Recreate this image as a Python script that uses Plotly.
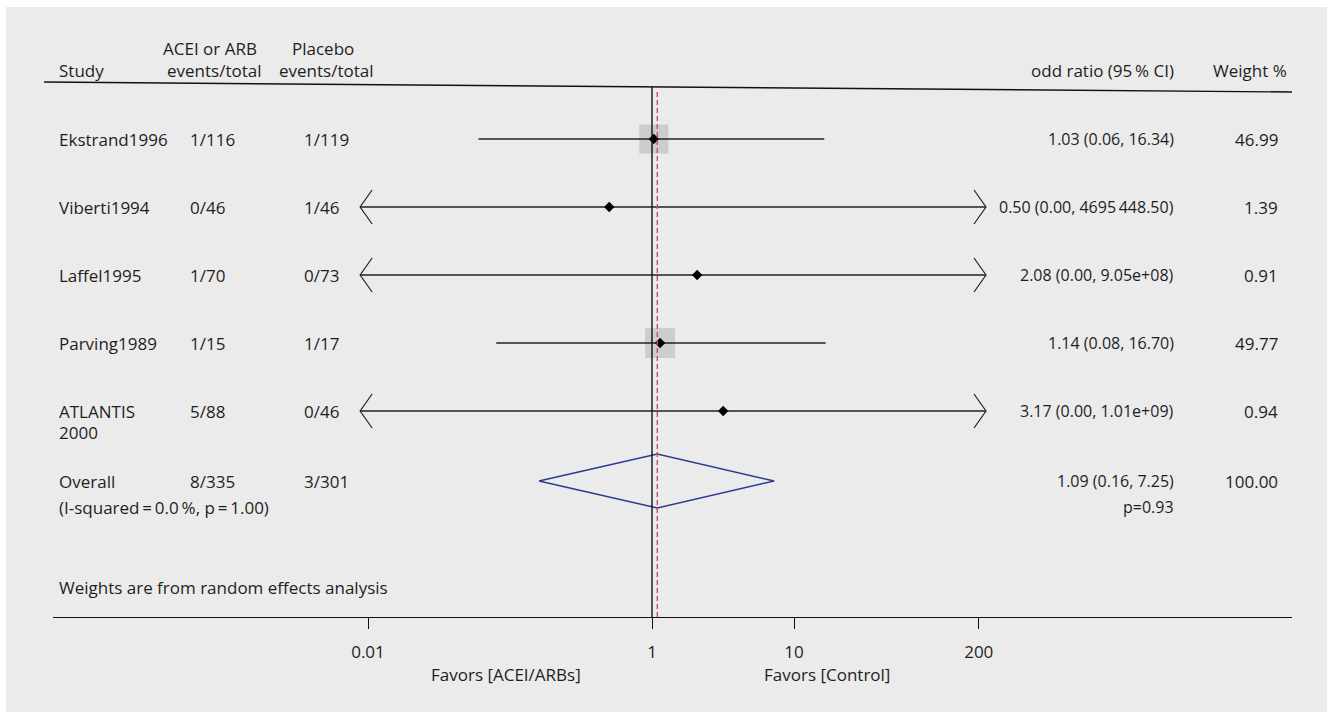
import plotly.graph_objects as go
import math

# ---------------- data ----------------
studies = ["Ekstrand1996", "Viberti1994", "Laffel1995", "Parving1989", "ATLANTIS 2000"]
acei_events = ["1/116", "0/46", "1/70", "1/15", "5/88"]
placebo_events = ["1/119", "1/46", "0/73", "1/17", "0/46"]
odds_ratio = [1.03, 0.50, 2.08, 1.14, 3.17]
ci_low = [0.06, 0.00, 0.00, 0.08, 0.00]
ci_high = [16.34, 4695448.50, 9.05e8, 16.70, 1.01e9]
weights = [46.99, 1.39, 0.91, 49.77, 0.94]

overall_label = "Overall"
overall_acei = "8/335"
overall_placebo = "3/301"
overall_or = 1.09
overall_low = 0.16
overall_high = 7.25
overall_weight = 100.00
overall_p = "p=0.93"
heterogeneity = "(I-squared\u2009=\u20090.0\u2009%, p\u2009=\u20091.00)"
footnote = "Weights are from random effects analysis"

tick_vals = [0.01, 1, 10, 200]
tick_text = ["0.01", "1", "10", "200"]
favors_left = "Favors [ACEI/ARBs]"
favors_right = "Favors [Control]"

# display clipping range of the CI lines (arrows beyond)
clip_low, clip_high = 0.0088, 225

# ---------------- layout helpers ----------------
W, H = 1327, 712
ML, MR, MT, MB = 53, 35, 0, 95
PW, PH = W - ML - MR, H - MT - MB
ROW0, ROWSTEP = 139, 68
PX_PER_DEC = 142.0
ONE_PX = 652


def xp(px):
    return (px - ML) / PW


def yp(py):
    return (H - MB - py) / PH


def row(py):
    return (py - ROW0) / ROWSTEP


FONT = "Open Sans"
FS = 17
FS_NUM = 16
TXT = "#1e1e1e"

fig = go.Figure()

# weight squares
max_w = max(weights)
sq_sizes = [30 * math.sqrt(w / max_w) for w in weights]
rows = list(range(len(studies)))
fig.add_trace(go.Scatter(
    x=odds_ratio, y=rows, mode="markers",
    marker=dict(symbol="square", size=sq_sizes, color="#c1c1c3", line=dict(width=0)),
    hoverinfo="skip", showlegend=False))

# CI lines and arrows
arm_dx = 10 ** (12 / PX_PER_DEC)
arm_dy = 17 / ROWSTEP
for i in rows:
    lo = max(ci_low[i], clip_low)
    hi = min(ci_high[i], clip_high)
    fig.add_trace(go.Scatter(x=[lo, hi], y=[i, i], mode="lines",
                             line=dict(color="#222", width=1.3),
                             hoverinfo="skip", showlegend=False))
    if ci_low[i] < clip_low:
        fig.add_trace(go.Scatter(x=[lo * arm_dx, lo, lo * arm_dx], y=[i - arm_dy, i, i + arm_dy],
                                 mode="lines", line=dict(color="#222", width=1.2),
                                 hoverinfo="skip", showlegend=False))
    if ci_high[i] > clip_high:
        fig.add_trace(go.Scatter(x=[hi / arm_dx, hi, hi / arm_dx], y=[i - arm_dy, i, i + arm_dy],
                                 mode="lines", line=dict(color="#222", width=1.2),
                                 hoverinfo="skip", showlegend=False))

# point estimates
fig.add_trace(go.Scatter(
    x=odds_ratio, y=rows, mode="markers",
    marker=dict(symbol="diamond", size=8, color="black"),
    hoverinfo="skip", showlegend=False))

# overall diamond
orow = row(481)
dh = 27 / ROWSTEP
fig.add_trace(go.Scatter(
    x=[overall_low, overall_or, overall_high, overall_or, overall_low],
    y=[orow, orow - dh, orow, orow + dh, orow],
    mode="lines", line=dict(color="#2d3b8e", width=1.5),
    hoverinfo="skip", showlegend=False))

shapes = []
# white page edges
shapes.append(dict(type="rect", xref="paper", yref="paper", x0=xp(0), x1=xp(W), y0=yp(7), y1=yp(0),
                   fillcolor="white", line=dict(width=0), layer="below"))
shapes.append(dict(type="rect", xref="paper", yref="paper", x0=xp(0), x1=xp(6), y0=yp(H), y1=yp(0),
                   fillcolor="white", line=dict(width=0), layer="below"))
# header rule (slightly slanted as in the reference)
shapes.append(dict(type="line", xref="paper", yref="paper", x0=xp(44), y0=yp(82), x1=xp(1292), y1=yp(92),
                   line=dict(color="#111", width=1.4)))
# null line at OR = 1
shapes.append(dict(type="line", xref="x", yref="paper", x0=1, x1=1, y0=0, y1=yp(87),
                   line=dict(color="#111", width=1.4), layer="above"))
# overall estimate dashed line
shapes.append(dict(type="line", xref="x", yref="paper", x0=overall_or, x1=overall_or,
                   y0=0, y1=yp(90), line=dict(color="#c8505e", width=1.4, dash="5px,3px"), layer="above"))

ann = []


def add_text(text, x, y, xanchor="left", yref="y", size=FS):
    ann.append(dict(text=text, x=x, y=y, xref="paper", yref=yref, xanchor=xanchor, yanchor="middle",
                    showarrow=False, font=dict(family=FONT, size=size, color=TXT)))


# headers
add_text("Study", xp(57), row(70))
add_text("ACEI or ARB", xp(210), row(48), "center")
add_text("events/total", xp(214), row(70), "center")
add_text("Placebo", xp(323), row(48), "center")
add_text("events/total", xp(326), row(70), "center")
add_text("odd ratio (95\u2009% CI)", xp(1176), row(70), "right")
add_text("Weight %", xp(1289), row(70), "right")


def fmt_ci(v):
    if v >= 1e8:
        return f"{v:.2e}"
    if v >= 1e4:
        whole, frac = f"{v:.2f}".split(".")
        return f"{whole[:-3]}\u2009{whole[-3:]}.{frac}"
    return f"{v:.2f}"


for i in rows:
    name = studies[i]
    if name == "ATLANTIS 2000":
        add_text("ATLANTIS", xp(57), i)
        add_text("2000", xp(57), i + 21 / ROWSTEP)
    else:
        add_text(name, xp(57), i)
    add_text(acei_events[i], xp(188), i)
    add_text(placebo_events[i], xp(302), i)
    add_text(f"{odds_ratio[i]:.2f} ({ci_low[i]:.2f}, {fmt_ci(ci_high[i])})", xp(1176), i, "right", size=FS_NUM)
    add_text(f"{weights[i]:.2f}", xp(1280), i, "right")

add_text(overall_label, xp(57), orow)
add_text(overall_acei, xp(188), orow)
add_text(overall_placebo, xp(302), orow)
add_text(f"{overall_or:.2f} ({overall_low:.2f}, {overall_high:.2f})", xp(1176), orow, "right", size=FS_NUM)
add_text(f"{overall_weight:.2f}", xp(1280), orow, "right")
add_text(heterogeneity, xp(57), row(507))
add_text(overall_p, xp(1176), row(507), "right", size=FS_NUM)
add_text(footnote, xp(57), row(587))

add_text(favors_left, xp(506), yp(674), "center", yref="paper")
add_text(favors_right, xp(827), yp(674), "center", yref="paper")

fig.update_layout(
    width=W, height=H,
    margin=dict(l=ML, r=MR, t=MT, b=MB, pad=0),
    paper_bgcolor="#ebebeb", plot_bgcolor="#ebebeb",
    shapes=shapes, annotations=ann, showlegend=False,
    xaxis=dict(type="log",
               range=[(ML - ONE_PX) / PX_PER_DEC, (W - MR - ONE_PX) / PX_PER_DEC],
               tickvals=tick_vals, ticktext=tick_text,
               ticks="outside", ticklen=11, tickwidth=1.1, tickcolor="#111",
               showline=True, linecolor="#111", linewidth=1.4,
               showgrid=False, zeroline=False, ticklabelstandoff=8,
               tickfont=dict(family=FONT, size=FS, color=TXT), fixedrange=True),
    yaxis=dict(range=[row(H - MB), row(0)], visible=False, showgrid=False, zeroline=False, fixedrange=True),
)

fig.write_html("out.html", config={"displayModeBar": False})
